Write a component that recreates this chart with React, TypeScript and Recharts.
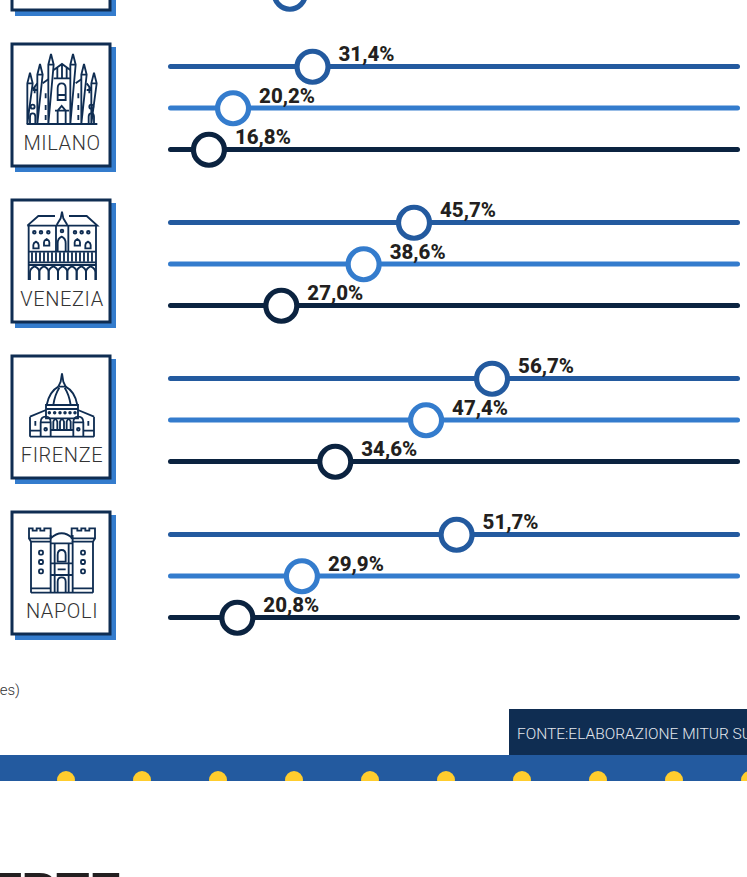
// Quota per citta: tre cursori per ogni citta, con riquadro e icona a sinistra

import { Bar, Cell, ComposedChart, LabelList, Line, XAxis, YAxis } from "recharts";

const SERIES = ["serie-a", "serie-b", "serie-c"];
const SERIES_COLORS = ["#235a9f", "#347ccd", "#0b2340"];

const CITIES = ["", "MILANO", "VENEZIA", "FIRENZE", "NAPOLI"];
// la prima citta e tagliata dal bordo: si vede solo l'ultimo cursore
const TOP_VALUES = [null, null, 28.2];
const MILANO_VALUES = [31.4, 20.2, 16.8];
const VENEZIA_VALUES = [45.7, 38.6, 27.0];
const FIRENZE_VALUES = [56.7, 47.4, 34.6];
const NAPOLI_VALUES = [51.7, 29.9, 20.8];
const CITY_VALUES = [TOP_VALUES, MILANO_VALUES, VENEZIA_VALUES, FIRENZE_VALUES, NAPOLI_VALUES];

const AXIS_MIN = 11.03;
const AXIS_MAX = 91.64;

const NAVY = "#0f2d52";
const FONT = "Roboto, sans-serif";
const ROW_STEP = 156;
const FIRST_CHART_TOP = -110.25;

function renderDot(props: any) {
  const { cx, cy, index, payload } = props;
  if (payload.value == null) return <g key={`dot-${index}`} />;
  return (
    <circle
      key={`dot-${index}`}
      cx={cx}
      cy={cy}
      r={15.5}
      fill="#fff"
      stroke={SERIES_COLORS[index]}
      strokeWidth={5.2}
    />
  );
}

function renderLabel(props: any) {
  const { x, y, value } = props;
  if (value == null || y < 0) return null;
  return (
    <text x={x + 26} y={y - 5.5} fontFamily={FONT} fontWeight={800} fontSize={20.5} fill="#231f20">
      {value.toFixed(1).replace(".", ",")}%
    </text>
  );
}

function CityChart({ values, top }: { values: (number | null)[]; top: number }) {
  const data = SERIES.map((name, i) => ({ name, value: values[i], track: AXIS_MAX }));
  return (
    <div style={{ position: "absolute", left: 0, top }}>
      <ComposedChart
        layout="vertical"
        width={747}
        height={124.5}
        data={data}
        margin={{ top: 0, right: 7, bottom: 0, left: 168 }}
        barCategoryGap={0}
      >
        <XAxis type="number" domain={[AXIS_MIN, AXIS_MAX]} hide />
        <YAxis type="category" dataKey="name" hide />
        <Bar dataKey="track" barSize={5} radius={2.5} isAnimationActive={false}>
          {SERIES.map((name, i) => (
            <Cell key={name} fill={SERIES_COLORS[i]} />
          ))}
        </Bar>
        <Line
          dataKey="value"
          stroke="none"
          dot={renderDot}
          activeDot={false}
          isAnimationActive={false}
        >
          <LabelList dataKey="value" content={renderLabel} />
        </Line>
      </ComposedChart>
    </div>
  );
}

const MilanoIcon = () => (
  <g transform="translate(20,50) scale(0.3333)">
    <path d="M20 222H232" />
    {[30, 60, 93, 159, 192, 222].map((x, i) => {
      const tip = [68, 42, 12, 12, 42, 68][i];
      return (
        <path key={x} d={`M${x - 8} 222V${tip + 32}L${x} ${tip}L${x + 8} ${tip + 32}Z M${x - 8} ${tip + 32}H${x + 8}`} />
      );
    })}
    <path d="M101 60L126 42L151 60M112 85V52M126 85V42M140 85V52M101 85H151" />
    <path d="M113 150V115Q113 100 125 100Q137 100 137 115V150ZM113 135H137" />
    <path d="M113 222V182L125 168L137 182V222M105 182H147" />
    <path d="M38 120H52M200 120H214M68 100L85 88M184 88L167 100M38 118L52 100M214 118L200 100M44 112V130M208 112V130" />
    <path d="M77 130V145M77 165V180M77 195V210M175 130V145M175 165V180M175 195V210" />
    <path d="M30 222V200Q30 190 38 190Q46 190 46 200V222M206 222V200Q206 190 214 190Q222 190 222 200V222" />
    <circle cx={38} cy={170} r={6} />
    <circle cx={214} cy={170} r={6} />
  </g>
);

const VeneziaIcon = () => (
  <g transform="translate(20,49) scale(0.3333)">
    <path d="M22 62L55 33H105M147 33H200L232 62H22" />
    <path d="M110 60L122 40L126 20L130 40L142 60" />
    <path d="M26 62V225M228 62V225M108 62V140M145 62V140" />
    <path d="M113 140V115Q113 100 125 95Q137 100 137 115V140" />
    <path d="M26 140H228M26 172H228M26 180H228" />
    {[36, 48, 60, 72, 84, 96, 108, 120, 132, 144, 156, 168, 180, 192, 204, 216].map((x) => (
      <path key={x} d={`M${x} 142V170`} />
    ))}
    {[30, 58, 86, 114, 142, 170, 198].map((x) => (
      <path key={x} d={`M${x} 225V202Q${x} 190 ${x + 14} 184Q${x + 28} 190 ${x + 28} 202V225`} />
    ))}
    {[43, 63, 85, 165, 185, 205, 126].map((x) => (
      <circle key={x} cx={x} cy={x === 126 ? 78 : 82} r={4} />
    ))}
    {[[48, 120], [80, 112], [172, 112], [204, 120]].map(([x, y]) => (
      <path key={x} d={`M${x - 8} ${y + 10}V${y}Q${x - 8} ${y - 6} ${x} ${y - 10}Q${x + 8} ${y - 6} ${x + 8} ${y}V${y + 10}Z`} />
    ))}
  </g>
);

const FirenzeIcon = () => (
  <g transform="translate(20,53) scale(0.3333)">
    <path d="M115 65L122 50L126 25L130 50L137 65H115" />
    <path d="M80 120Q88 80 115 65M172 120Q165 80 137 65M100 120Q104 90 118 68M152 120Q148 90 134 68" />
    <path d="M78 120H174V160H78ZM78 132H174" />
    <path d="M30 155L78 135M174 135L222 155M30 155V215M222 155V215M30 215H222M30 197H62M190 197H222M92 195H160" />
    <path d="M62 215V172Q62 155 77 155Q92 155 92 172V215M160 215V172Q160 155 175 155Q190 155 190 172V215M62 172H92M160 172H190" />
    <path d="M100 195V170Q106 155 112 170V195M120 195V170Q126 155 132 170V195M140 195V170Q146 155 152 170V195" />
    <path d="M46 168V182M205 168V182" />
    {[88, 104, 120, 135, 150, 165].map((x) => (
      <circle key={x} cx={x} cy={143} r={2.5} />
    ))}
    <circle cx={77} cy={193} r={4} />
    <circle cx={175} cy={193} r={4} />
  </g>
);

const NapoliIcon = () => (
  <g transform="translate(20,52) scale(0.3333)">
    <path d="M27 55V25H38V32H50V25H61V32H73V25H92V55ZM33 65H92M27 55L33 65" />
    <path d="M155 55V25H172V32H184V25H196V32H208V25H225V55ZM155 65H219M225 55L219 65" />
    <path d="M33 65V218M219 65V218M33 218H219M33 205H92M158 205H219" />
    <path d="M92 45V218M158 45V218M92 55Q125 25 158 55M92 70H158M92 130H158M92 165H158M104 70V218M146 70V218" />
    <path d="M113 125V105Q113 90 125 90Q137 90 137 105V125ZM113 218V185Q113 172 125 172Q137 172 137 185V218M113 148H137" />
    {[98, 126, 154].map((y) => (
      <g key={y}>
        <rect x={57} y={y - 6} width={12} height={12} rx={4} />
        <rect x={183} y={y - 6} width={12} height={12} rx={4} />
      </g>
    ))}
  </g>
);

const CITY_ICONS = [null, MilanoIcon, VeneziaIcon, FirenzeIcon, NapoliIcon];

function CityBox({ name, row }: { name: string; row: number }) {
  const Icon = CITY_ICONS[row];
  return (
    <g transform={`translate(0,${(row - 1) * ROW_STEP})`}>
      <rect x={15} y={47} width={101} height={125} fill={SERIES_COLORS[1]} />
      <rect x={12} y={44} width={98} height={122} fill="#fff" stroke={NAVY} strokeWidth={3} />
      {name && (
        <text
          x={62}
          y={149.5}
          textAnchor="middle"
          fontFamily={FONT}
          fontWeight={300}
          fontSize={20}
          letterSpacing={0.6}
          fill="#333"
        >
          {name}
        </text>
      )}
      {Icon && (
        <g fill="none" stroke={NAVY} strokeWidth={5.5}>
          <Icon />
        </g>
      )}
    </g>
  );
}

const BAND_DOTS = [66, 142, 218, 294, 370, 446, 522, 598, 674, 750];

export default function App() {
  return (
    <div style={{ position: "absolute", left: 0, top: 0, width: 747, height: 877, overflow: "hidden", background: "#fff" }}>
      <svg width={747} height={877} style={{ position: "absolute", left: 0, top: 0 }}>
        {CITIES.map((name, i) => (
          <CityBox key={i} name={name} row={i} />
        ))}
        <text x={20} y={695} textAnchor="end" fontFamily={FONT} fontWeight={300} fontSize={15} fill="#333">
          es)
        </text>
        <rect x={509} y={709} width={238} height={46} fill={NAVY} />
        <text x={517} y={739} fontFamily={FONT} fontWeight={300} fontSize={15.5} fill="#e3e8ee">
          FONTE:ELABORAZIONE MITUR SU
        </text>
        <rect x={0} y={755} width={747} height={26} fill={SERIES_COLORS[0]} />
        {BAND_DOTS.map((x) => (
          <circle key={x} cx={x} cy={780} r={9} fill="#ffcd2e" />
        ))}
        <rect x={0} y={781} width={747} height={12} fill="#fff" />
        <text x={120} y={910.5} textAnchor="end" fontFamily={FONT} fontWeight={900} fontSize={54} fill="#231f20">
          ERTE
        </text>
      </svg>
      {CITY_VALUES.map((values, i) => (
        <CityChart key={i} values={values} top={FIRST_CHART_TOP + i * ROW_STEP} />
      ))}
    </div>
  );
}
